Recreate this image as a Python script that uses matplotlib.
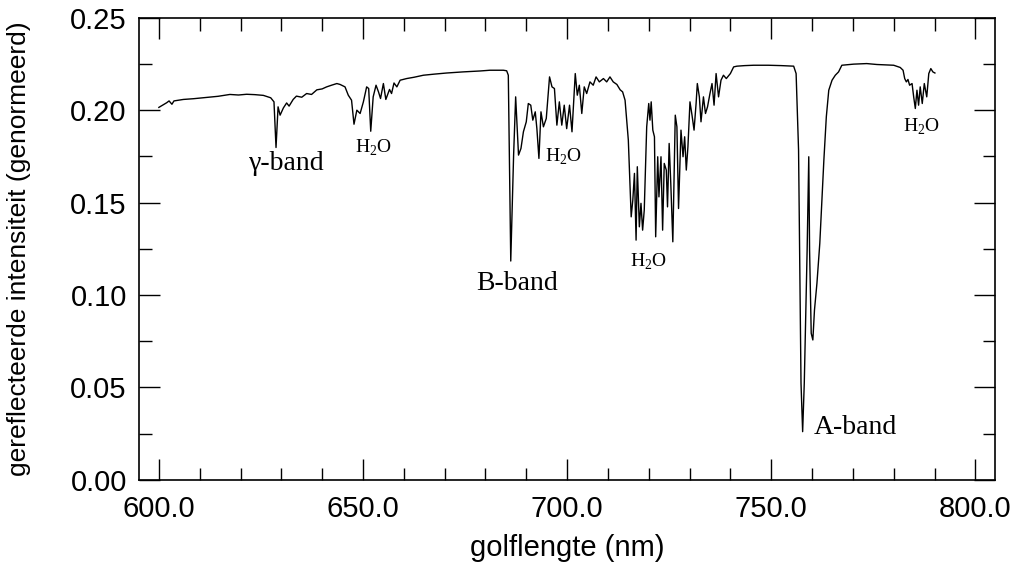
import matplotlib.pyplot as plt
from matplotlib.ticker import MultipleLocator, FormatStrFormatter

plt.rcParams['font.family'] = ['Liberation Sans', 'DejaVu Sans']
plt.rcParams['mathtext.fontset'] = 'custom'
plt.rcParams['mathtext.rm'] = 'Liberation Serif'

# Spectrum: wavelength (nm) and normalised reflected intensity
golflengte = [
    600.0, 601.9, 602.5, 603.2, 603.7, 606.0, 608.5, 611.7, 614.5, 617.4,
    619.5, 621.5, 623.5, 625.6, 627.4, 628.2, 628.7, 629.2, 629.7, 630.5,
    631.3, 631.9, 632.9, 633.7, 635.0, 636.2, 637.4, 638.7, 640.0, 641.1,
    642.3, 643.6, 644.4, 645.6, 646.4, 647.2, 647.8, 648.5, 649.3, 650.1,
    650.9, 651.4, 651.9, 652.5, 653.2, 653.8, 654.3, 655.0, 655.6, 656.5,
    657.0, 657.6, 658.3, 659.1, 660.7, 662.5, 664.8, 667.5, 670.5, 674.5,
    678.7, 681.1, 684.4, 685.2, 685.6, 686.2, 686.9, 687.4, 688.1, 688.7,
    689.3, 690.0, 690.5, 691.1, 691.6, 692.2, 692.6, 693.1, 693.6, 694.2,
    694.9, 695.7, 696.3, 696.9, 697.5, 698.1, 698.7, 699.3, 699.9, 700.6,
    701.2, 702.0, 702.5, 703.0, 703.6, 704.2, 704.8, 705.6, 706.4, 707.1,
    707.9, 708.9, 709.7, 710.5, 711.3, 712.2, 713.0, 713.6, 714.2, 715.0,
    715.7, 716.1, 716.5, 716.9, 717.2, 717.7, 718.1, 718.5, 718.9, 719.5,
    720.0, 720.3, 720.6, 721.0, 721.4, 721.7, 722.2, 722.5, 723.0, 723.4,
    723.8, 724.3, 724.6, 725.0, 725.4, 725.9, 726.5, 726.9, 727.3, 727.9,
    728.4, 728.8, 729.2, 729.6, 730.1, 730.6, 731.1, 731.6, 731.9, 732.4,
    732.8, 733.4, 733.9, 734.4, 735.0, 735.5, 736.0, 736.5, 737.1, 737.7,
    738.3, 739.0, 740.0, 740.8, 741.6, 743.5, 745.7, 749.3, 752.5, 755.5,
    756.1, 756.7, 757.3, 757.7, 758.1, 758.8, 759.2, 759.4, 759.8, 760.2,
    760.6, 761.2, 761.9, 762.5, 762.9, 763.5, 764.1, 764.9, 765.7, 766.5,
    767.3, 770.2, 773.4, 775.9, 780.0, 781.6, 782.3, 782.7, 783.1, 783.5,
    783.9, 784.5, 784.9, 785.3, 785.7, 786.1, 786.5, 787.0, 787.5, 788.1,
    788.6, 789.1, 789.6, 790.1,
]
intensiteit = [
    0.2015, 0.2040, 0.2050, 0.2032, 0.2050, 0.2058, 0.2062, 0.2069, 0.2075, 0.2085,
    0.2082, 0.2086, 0.2084, 0.2080, 0.2067, 0.2045, 0.1798, 0.2018, 0.1973, 0.2012,
    0.2039, 0.2022, 0.2058, 0.2076, 0.2070, 0.2090, 0.2085, 0.2110, 0.2115, 0.2126,
    0.2135, 0.2144, 0.2139, 0.2126, 0.2081, 0.2054, 0.1924, 0.2000, 0.1982, 0.2045,
    0.2126, 0.2117, 0.1886, 0.2072, 0.2135, 0.2099, 0.2063, 0.2144, 0.2058, 0.2112,
    0.2090, 0.2147, 0.2126, 0.2162, 0.2171, 0.2178, 0.2189, 0.2195, 0.2201, 0.2207,
    0.2212, 0.2216, 0.2216, 0.2213, 0.2189, 0.1184, 0.1757, 0.2072, 0.1757, 0.1793,
    0.1883, 0.1937, 0.2036, 0.2027, 0.1946, 0.1991, 0.1900, 0.1739, 0.1991, 0.1910,
    0.1955, 0.2180, 0.2126, 0.2117, 0.1919, 0.2045, 0.1919, 0.2027, 0.1900, 0.2027,
    0.1883, 0.2198, 0.2081, 0.2135, 0.1982, 0.2126, 0.2090, 0.2153, 0.2135, 0.2180,
    0.2153, 0.2171, 0.2153, 0.2180, 0.2153, 0.2139, 0.2110, 0.2099, 0.2054, 0.1838,
    0.1423, 0.1514, 0.1658, 0.1297, 0.1694, 0.1369, 0.1496, 0.1351, 0.1459, 0.1910,
    0.2036, 0.1946, 0.2045, 0.1892, 0.1856, 0.1315, 0.1748, 0.1531, 0.1748, 0.1351,
    0.1712, 0.1676, 0.1477, 0.1820, 0.1604, 0.1288, 0.1973, 0.1910, 0.1468, 0.1892,
    0.1748, 0.1856, 0.1676, 0.1802, 0.2045, 0.1973, 0.1892, 0.2036, 0.2144, 0.2072,
    0.1937, 0.2072, 0.1982, 0.2018, 0.2090, 0.2144, 0.2027, 0.2198, 0.2072, 0.2162,
    0.2189, 0.2171, 0.2198, 0.2234, 0.2238, 0.2241, 0.2243, 0.2243, 0.2241, 0.2238,
    0.2198, 0.1784, 0.0523, 0.0261, 0.0523, 0.1243, 0.1748, 0.1243, 0.0793, 0.0757,
    0.0919, 0.1063, 0.1279, 0.1550, 0.1730, 0.1964, 0.2108, 0.2162, 0.2189, 0.2207,
    0.2243, 0.2249, 0.2252, 0.2247, 0.2243, 0.2231, 0.2216, 0.2171, 0.2153, 0.2166,
    0.2135, 0.2144, 0.2072, 0.2009, 0.2108, 0.2027, 0.2126, 0.2036, 0.2144, 0.2072,
    0.2198, 0.2225, 0.2207, 0.2201,
]

# Band labels and where they sit (nm, intensity)
band_labels = ['γ-band', 'B-band', 'A-band']
band_x = [631.4, 687.7, 770.6]
band_y = [0.1714, 0.1065, 0.0281]

h2o_x = [652.5, 699.0, 719.9, 786.8]
h2o_y = [0.1795, 0.1750, 0.1178, 0.1908]

fig = plt.figure(figsize=(10.24, 5.72), dpi=100)
ax = fig.add_axes([0.136, 0.161, 0.836, 0.808])

ax.plot(golflengte, intensiteit, color='black', linewidth=1.0)

for label, x, y in zip(band_labels, band_x, band_y):
    ax.text(x, y, label, family='Liberation Serif', fontsize=20,
            ha='center', va='center')
for x, y in zip(h2o_x, h2o_y):
    ax.text(x, y, 'H$_\\mathrm{2}$O', family='Liberation Serif', fontsize=14,
            ha='center', va='center')

ax.set_xlim(595.2, 804.9)
ax.set_ylim(0, 0.25)
ax.xaxis.set_major_locator(MultipleLocator(50))
ax.xaxis.set_minor_locator(MultipleLocator(10))
ax.yaxis.set_major_locator(MultipleLocator(0.05))
ax.yaxis.set_minor_locator(MultipleLocator(0.025))
ax.xaxis.set_major_formatter(FormatStrFormatter('%.1f'))
ax.yaxis.set_major_formatter(FormatStrFormatter('%.2f'))
ax.tick_params(which='both', direction='in', top=True, right=True,
               labelsize=21, width=1)
ax.tick_params(which='major', length=15)
ax.tick_params(axis='x', which='major', pad=11)
ax.tick_params(axis='y', which='major', pad=9)
ax.tick_params(which='minor', length=9)
for s in ax.spines.values():
    s.set_linewidth(1.2)

ax.set_xlabel('golflengte (nm)', fontsize=21)
ax.set_ylabel('gereflecteerde intensiteit (genormeerd)', fontsize=19)
ax.xaxis.set_label_coords(0.5, -0.118)
ax.yaxis.set_label_coords(-0.126, 0.5)

plt.savefig('out.png')
